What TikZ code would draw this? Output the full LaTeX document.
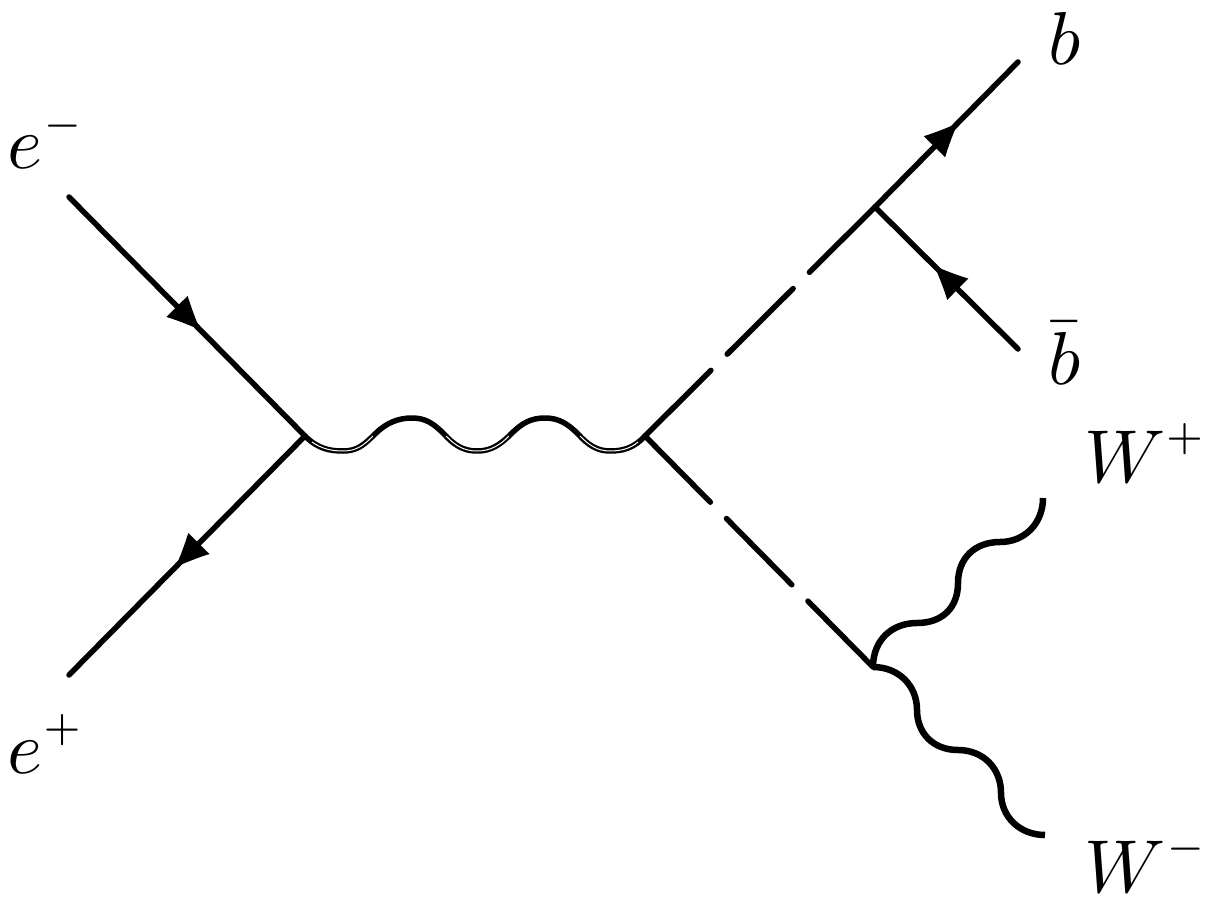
\documentclass[tikz,border=0pt]{standalone}
\usepackage{amsmath}
\newcommand{\supm}{{\raisebox{0.8pt}{$\scriptscriptstyle-$}}}
\newcommand{\supp}{{\raisebox{0.8pt}{$\scriptscriptstyle+$}}}
\tikzset{
  feyn/.style={line width=5.5pt,line cap=round,line join=round,black},
  boson/.style={feyn,line width=6.5pt,line cap=butt},
  broken/.style={feyn,dash pattern=on 93pt off 23pt},
  core/.style={line width=1pt,white},
  lab/.style={anchor=base west,inner sep=0pt,outer sep=0pt,scale=7.5},
  fermtip/.pic={\fill[black] (1,0) .. controls (-8,3.5) and (-22,9.5) .. (-32,15) -- (-32,-15) .. controls (-22,-9.5) and (-8,-3.5) .. (1,0) -- cycle;}
}
\begin{document}
\begin{tikzpicture}[x=1pt,y=-1pt]
\useasboundingbox (0,0) rectangle (1212,901);
\coordinate (em) at (69,197);
\coordinate (ep) at (69,675);
\coordinate (v1) at (305,436);
\coordinate (v2) at (645,436);
\coordinate (v3) at (875,207);
\coordinate (v4) at (873,667);
\coordinate (fb) at (1018,62);
\coordinate (fbb) at (1018,349);
\coordinate (wp) at (1043,498);
\coordinate (wm) at (1045,835);
% fermions
\draw[feyn] (em) -- pic[pos=.553,sloped,allow upside down]{fermtip} (v1);
\draw[feyn] (v1) -- pic[pos=.545,sloped,allow upside down]{fermtip} (ep);
\draw[feyn] (v3) -- pic[pos=.573,sloped,allow upside down]{fermtip} (fb);
\draw[feyn] (fbb) -- pic[pos=.58,sloped,allow upside down]{fermtip} (v3);
% broken lines
\draw[broken] (v2) -- (v3);
\draw[broken] (v2) -- (v4);
% photon
\draw[feyn] (v1) .. controls (318,449) and (330,451) .. (343,451)
  .. controls (357,451) and (364,445) .. (375,434)
  .. controls (386,423) and (398,418) .. (412,418)
  .. controls (426,418) and (434,424) .. (444,434)
  .. controls (454,445) and (463,451) .. (477,451)
  .. controls (491,451) and (500,445) .. (511,434)
  .. controls (522,423) and (531,418) .. (545,418)
  .. controls (559,418) and (568,424) .. (578,434)
  .. controls (588,445) and (597,451) .. (610,451)
  .. controls (623,451) and (634,448) .. (v2);
\draw[core] (312,442) .. controls (322,449) and (332,451) .. (343,451)
  .. controls (357,451) and (364,445) .. (373,436);
\draw[core] (446,436) .. controls (455,445) and (463,451) .. (477,451)
  .. controls (491,451) and (500,445) .. (509,436);
\draw[core] (580,436) .. controls (589,445) and (597,451) .. (610,451)
  .. controls (620,451) and (630,449) .. (638,442);
% W bosons
\draw[boson] (v4) .. controls (873,640) and (892,623) .. (917,623)
  .. controls (942,623) and (958,608) .. (958,583)
  .. controls (958,558) and (975,542) .. (1000,542)
  .. controls (1025,542) and (1043,523) .. (wp);
\draw[boson] (v4) .. controls (898,667) and (917,685) .. (917,710)
  .. controls (917,733) and (933,750) .. (958,750)
  .. controls (983,750) and (1001,768) .. (1001,793)
  .. controls (1001,817) and (1020,835) .. (wm);
% labels
\node[lab] (lem) at (8,169) {$e^\supm$};
\node[lab] (lep) at (8,773) {$e^\supp$};
\node[lab] (lb) at (1048,65) {$b$};
\node[lab] (lbb) at (1048,384) {$\bar b$};
\node[lab] (lwp) at (1084,482) {$W^\supp$};
\node[lab] (lwm) at (1084,892) {$W^\supm$};
\end{tikzpicture}
\end{document}
